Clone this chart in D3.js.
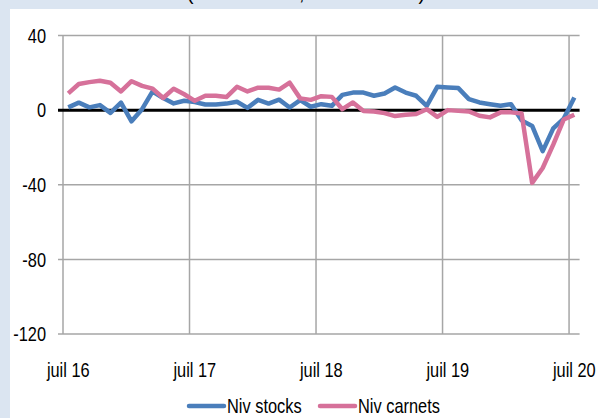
<!DOCTYPE html>
<html lang="fr">
  <head>
    <meta charset="UTF-8" />
    <title>Niv stocks / Niv carnets</title>
    <style>
      body { margin: 0; background: #dbe5f1; }
      text { font-family: "Liberation Sans", Arial, sans-serif; font-size: 20px; fill: #000; }
      .grid line { stroke: #a6a6a6; stroke-width: 1.5; }
    </style>
  </head>
  <body>
    <svg id="chart" width="598" height="418"></svg>
  </body>
  <script src="https://cdn.jsdelivr.net/npm/d3@7"></script>
  <script>
    // monthly values, juil 2016 -> juil 2020
    const months = d3.range(49);
    const xTicks = [0, 12, 24, 36, 48];
    const xLabels = ["juil 16", "juil 17", "juil 18", "juil 19", "juil 20"];
    const yTicks = [40, 0, -40, -80, -120];

    const stocks = [
      1.5, 4, 1.5, 2.7, -1.5, 4, -6, 0.5, 10, 6.5, 3.6, 5,
      4.3, 3, 3, 3.5, 4.5, 1.2, 5.5, 3.5, 5.6, 1.4, 5.4, 1.8,
      3.2, 2.3, 8.2, 9.4, 9.4, 7.7, 8.9, 12.1, 9.4, 7.7, 2.3, 12.5,
      12.1, 11.8, 5.9, 4.1, 3.2, 2.3, 3.2, -5.5, -8.5, -22, -9.8, -4.5,
      6.8
    ];
    const carnets = [
      9, 14, 15, 15.7, 14.7, 10, 15.5, 13, 11.5, 6.5, 11.5, 8.5,
      5, 7.7, 7.7, 7, 12.5, 10, 12, 12, 11, 14.7, 6.3, 5.5,
      7.5, 7.1, 0.5, 4.1, -0.5, -0.7, -1.6, -3.2, -2.5, -2.1, 0.5, -3.6,
      0, -0.4, -0.7, -3, -3.9, -1.2, -1.2, -1.8, -39, -31, -18.5, -5,
      -2.5
    ];

    const svg = d3.select("#chart");
    const squeeze = 0.82; // the original font is a narrow one

    // narrow text helper
    const put = (sel, px, py) =>
      sel.attr("transform", (d, i) => `translate(${px(d, i)},${py(d, i)}) scale(${squeeze},1)`);

    // title is cut off above the white panel
    svg.append("text")
      .attr("x", 306).attr("y", -0.5)
      .attr("text-anchor", "middle")
      .attr("textLength", 238)
      .attr("lengthAdjust", "spacingAndGlyphs")
      .text("(soldes en %, données cvs)");
    svg.append("rect")
      .attr("x", 10).attr("y", 9)
      .attr("width", 588).attr("height", 409)
      .attr("fill", "#fff");

    const x = d3.scaleBand().domain(months).range([63, 579.6]).padding(0);
    const cx = (i) => x(i) + x.bandwidth() / 2;
    const y = d3.scaleLinear().domain([-120, 40]).range([334, 35.5]);

    // horizontal grid
    const grid = svg.append("g").attr("class", "grid");
    grid.selectAll("line.h")
      .data(yTicks.filter((d) => d !== 0))
      .enter()
      .append("line")
      .attr("class", "h")
      .attr("x1", 58).attr("x2", x.range()[1])
      .attr("y1", (d) => y(d)).attr("y2", (d) => y(d));

    // vertical grid
    grid.selectAll("line.v")
      .data(xTicks)
      .enter()
      .append("line")
      .attr("class", "v")
      .attr("x1", (d) => x(d)).attr("x2", (d) => x(d))
      .attr("y1", y(40)).attr("y2", y(-120));

    svg.append("g")
      .selectAll("text")
      .data(yTicks)
      .enter()
      .append("text")
      .call(put, () => 46, (d) => y(d))
      .attr("dy", "0.36em")
      .attr("text-anchor", "end")
      .text((d) => d);

    svg.append("g")
      .selectAll("text")
      .data(xTicks)
      .enter()
      .append("text")
      .call(put, (d) => cx(d), () => 370)
      .attr("dy", "0.36em")
      .attr("text-anchor", "middle")
      .text((d, i) => xLabels[i]);

    // zero line
    svg.append("line")
      .attr("x1", 58).attr("x2", x.range()[1])
      .attr("y1", y(0)).attr("y2", y(0))
      .attr("stroke", "#000").attr("stroke-width", 3);

    const line = d3.line()
      .x((d, i) => cx(i))
      .y((d) => y(d));

    const series = [
      { name: "Niv stocks", values: stocks, color: "#4a7ebb" },
      { name: "Niv carnets", values: carnets, color: "#d6719a" },
    ];

    svg.append("g")
      .selectAll("path")
      .data(series)
      .enter()
      .append("path")
      .attr("d", (d) => line(d.values))
      .attr("fill", "none")
      .attr("stroke", (d) => d.color)
      .attr("stroke-width", 4.5)
      .attr("stroke-linejoin", "round");

    // legend
    const legendX = [189, 320];
    const legend = svg.append("g")
      .selectAll("g")
      .data(series)
      .enter()
      .append("g")
      .attr("transform", (d, i) => `translate(${legendX[i]},406)`);
    legend.append("line")
      .attr("x1", 0).attr("x2", 35)
      .attr("stroke", (d) => d.color)
      .attr("stroke-width", 4.5)
      .attr("stroke-linecap", "round");
    legend.append("text")
      .call(put, () => 38, () => 0)
      .attr("dy", "0.36em")
      .text((d) => d.name);
  </script>
</html>
